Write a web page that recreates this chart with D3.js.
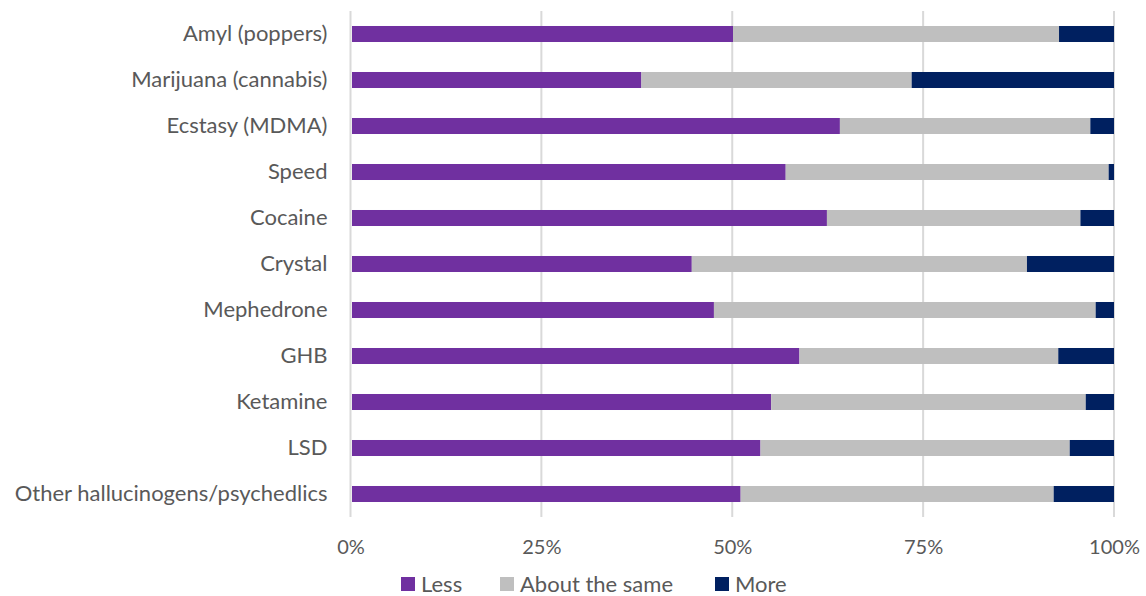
<!DOCTYPE html>
<html>
<head>
<meta charset="utf-8">
<script src="https://cdn.jsdelivr.net/npm/d3@7"></script>
<style>
  html, body { margin: 0; padding: 0; background: #fff; }
  svg text { font-family: Lato, "Open Sans", sans-serif; fill: #595959; }
</style>
</head>
<body>
<svg id="chart" width="1146" height="596"></svg>
<script>
// Drug categories, top to bottom
const categories = [
  "Amyl (poppers)", "Marijuana (cannabis)", "Ecstasy (MDMA)", "Speed", "Cocaine",
  "Crystal", "Mephedrone", "GHB", "Ketamine", "LSD", "Other hallucinogens/psychedlics"
];
// Share of responses (%) per category
const less = [50.1, 38.1, 64.1, 57.0, 62.4, 44.7, 47.6, 58.8, 55.1, 53.7, 51.1];
const same = [42.7, 35.4, 32.8, 42.3, 33.2, 43.9, 50.0, 33.9, 41.2, 40.5, 41.0];
const more = [7.2, 26.5, 3.1, 0.7, 4.4, 11.4, 2.4, 7.3, 3.7, 5.8, 7.9];
const seriesNames = ["Less", "About the same", "More"];
const seriesColors = ["#7030A0", "#BFBFBF", "#002060"];
const tickValues = [0, 25, 50, 75, 100];

const svg = d3.select("#chart");
const plotLeft = 350.5, plotRight = 1114, plotTop = 11, plotBottom = 517;

const x = d3.scaleLinear().domain([0, 100]).range([plotLeft, plotRight]);
const y = d3.scaleBand().domain(categories).range([plotTop, plotBottom]).paddingInner(0.652).paddingOuter(0.326);

// Gridlines
svg.append("g")
  .selectAll("line")
  .data(tickValues)
  .join("line")
  .attr("x1", d => x(d)).attr("x2", d => x(d))
  .attr("y1", plotTop).attr("y2", plotBottom)
  .attr("stroke", "#D9D9D9").attr("stroke-width", 2);

// Stacked bars
const rows = categories.map((c, i) => ({ cat: c, Less: less[i], "About the same": same[i], More: more[i] }));
const stacked = d3.stack().keys(seriesNames)(rows);

svg.append("g")
  .selectAll("g")
  .data(stacked)
  .join("g")
  .attr("fill", (d, i) => seriesColors[i])
  .selectAll("rect")
  .data(d => d)
  .join("rect")
  .attr("x", d => x(d[0]) + (d[0] === 0 ? 1.5 : 0))
  .attr("width", d => x(d[1]) - x(d[0]) - (d[0] === 0 ? 1.5 : 0))
  .attr("y", d => y(d.data.cat))
  .attr("height", y.bandwidth());

// Category labels
const yAxis = d3.axisLeft(y).tickSize(0).tickPadding(23);
const gy = svg.append("g").attr("transform", `translate(${plotLeft},0)`).call(yAxis);
gy.select(".domain").remove();
gy.selectAll("text").style("font-size", "22px").attr("fill", "#595959");

// Percent axis labels
const xAxis = d3.axisBottom(x).tickValues(tickValues).tickFormat(d => d + "%").tickSize(0).tickPadding(0);
const gx = svg.append("g").attr("transform", `translate(0,540)`).call(xAxis);
gx.select(".domain").remove();
gx.selectAll("text").style("font-size", "20px").attr("fill", "#595959");

// Legend
const legendX = [401, 500, 715];
const legend = svg.append("g")
  .selectAll("g")
  .data(seriesNames)
  .join("g")
  .attr("transform", (d, i) => `translate(${legendX[i]},577)`);
legend.append("rect").attr("width", 14).attr("height", 14).attr("fill", (d, i) => seriesColors[i]);
legend.append("text").attr("x", 20).attr("y", 7).attr("dy", "0.35em")
  .style("font-size", "22px").text(d => d);
</script>
</body>
</html>
